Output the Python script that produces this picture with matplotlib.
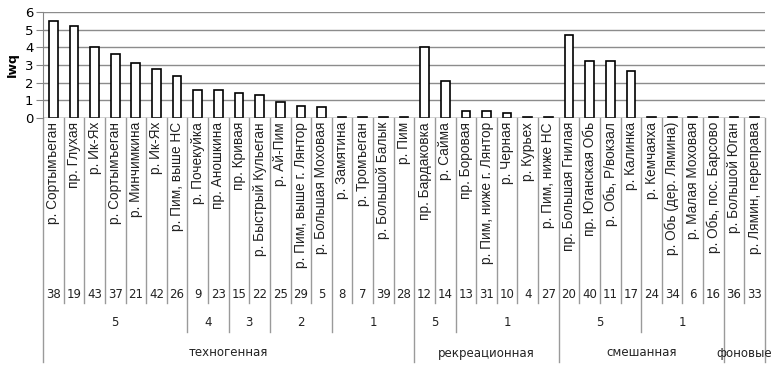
import matplotlib.pyplot as plt
import matplotlib.transforms as mtransforms

# categories (river / station), station codes and Iwq values
names = ["р. Сортымъеган", "пр. Глухая", "р. Ик-Ях", "р. Сортымъеган", "р. Минчимкина",
         "р. Ик-Ях", "р. Пим, выше НС", "р. Почекуйка", "пр. Аношкина", "пр. Кривая",
         "р. Быстрый Кульеган", "р. Ай-Пим", "р. Пим, выше г. Лянтор", "р. Большая Моховая",
         "р. Замятина", "р. Тромъеган", "р. Большой Балык", "р. Пим",
         "пр. Бардаковка", "р. Сайма", "пр. Боровая", "р. Пим, ниже г. Лянтор", "р. Черная",
         "р. Курьех", "р. Пим, ниже НС",
         "пр. Большая Гнилая", "пр. Юганская Обь", "р. Обь, Р/вокзал", "р. Калинка",
         "р. Кемчаяха", "р. Обь (дер. Лямина)", "р. Малая Моховая", "р. Обь, пос. Барсово",
         "р. Большой Юган", "р. Лямин, переправа"]
codes = ["38", "19", "43", "37", "21", "42", "26", "9", "23", "15", "22", "25", "29", "5",
         "8", "7", "39", "28", "12", "14", "13", "31", "10", "4", "27",
         "20", "40", "11", "17", "24", "34", "6", "16", "36", "33"]
iwq = [5.5, 5.2, 4.0, 3.6, 3.1, 2.8, 2.4, 1.6, 1.6, 1.4, 1.3, 0.9, 0.7, 0.6,
       0.03, 0.03, 0.03, 0.03, 4.0, 2.1, 0.4, 0.4, 0.28, 0.03, 0.03,
       4.7, 3.2, 3.2, 2.65, 0.08, 0.03, 0.03, 0.03, 0.03, 0.03]

# second level (class) and third level (impact type): label, number of categories
classes = [("5", 7), ("4", 2), ("3", 2), ("2", 3), ("1", 4),
           ("5", 2), ("1", 5), ("5", 4), ("1", 4), ("", 2)]
impact = [("техногенная", 18), ("рекреационная", 7), ("смешанная", 8), ("фоновые", 2)]

W, H = 777, 369
fig = plt.figure(figsize=(W / 100, H / 100), dpi=100)
ax = fig.add_axes([43 / W, 1 - 118 / H, (765 - 43) / W, (118 - 12) / H])

def fy(p):
    return 1 - p / H

n = len(names)
x = list(range(n))
ax.bar([i + 0.5 for i in x], iwq, width=0.42, color="white", edgecolor="black",
       linewidth=1.2, zorder=3)

ax.set_xlim(0, n)
ax.set_ylim(0, 6)
ax.set_yticks(range(7))
ax.set_xticks([])
ax.tick_params(axis="y", length=5, color="#868686", labelsize=9.5, pad=2)
for lbl in ax.get_yticklabels():
    lbl.set_family("DejaVu Sans")
ax.grid(axis="y", color="#8c8c8c", linewidth=1)
ax.set_axisbelow(True)
for s in ["top", "right", "bottom"]:
    ax.spines[s].set_visible(False)
ax.spines["left"].set_color("#868686")
ax.axhline(0, color="#868686", linewidth=1, zorder=4)

fig.text(12 / W, fy(65), "Iwq", rotation=90, ha="center", va="center",
         fontsize=9, fontweight="bold", family="DejaVu Sans")

tr = mtransforms.blended_transform_factory(ax.transData, fig.transFigure)
sep_col = "#9a9a9a"

# boundary depth: 0 category, 1 class, 2 impact type
depth = {i: 0 for i in range(n + 1)}
pos = 0
for _, k in classes:
    pos += k
    depth[pos] = max(depth[pos], 1)
pos = 0
depth[0] = 2
for _, k in impact:
    pos += k
    depth[pos] = 2
bottoms = [303, 332, 362]
for b, d in depth.items():
    ax.plot([b, b], [fy(118), fy(bottoms[d])], transform=tr, color=sep_col,
            linewidth=1, clip_on=False)

for i in x:
    ax.text(i + 0.5, fy(122), names[i], transform=tr, rotation=90, ha="center",
            va="top", fontsize=9.8, family="Liberation Sans", color="#222222")
    ax.text(i + 0.5, fy(295), codes[i], transform=tr, ha="center", va="center",
            fontsize=8.5, family="DejaVu Sans", color="#222222")

pos = 0
for lab, k in classes:
    ax.text(pos + k / 2, fy(323), lab, transform=tr, ha="center", va="center",
            fontsize=8.5, family="DejaVu Sans", color="#222222")
    pos += k
pos = 0
for lab, k in impact:
    ax.text(pos + k / 2, fy(353), lab, transform=tr, ha="center", va="center",
            fontsize=8.5, family="DejaVu Sans", color="#222222")
    pos += k

fig.savefig("out.png", dpi=100)
